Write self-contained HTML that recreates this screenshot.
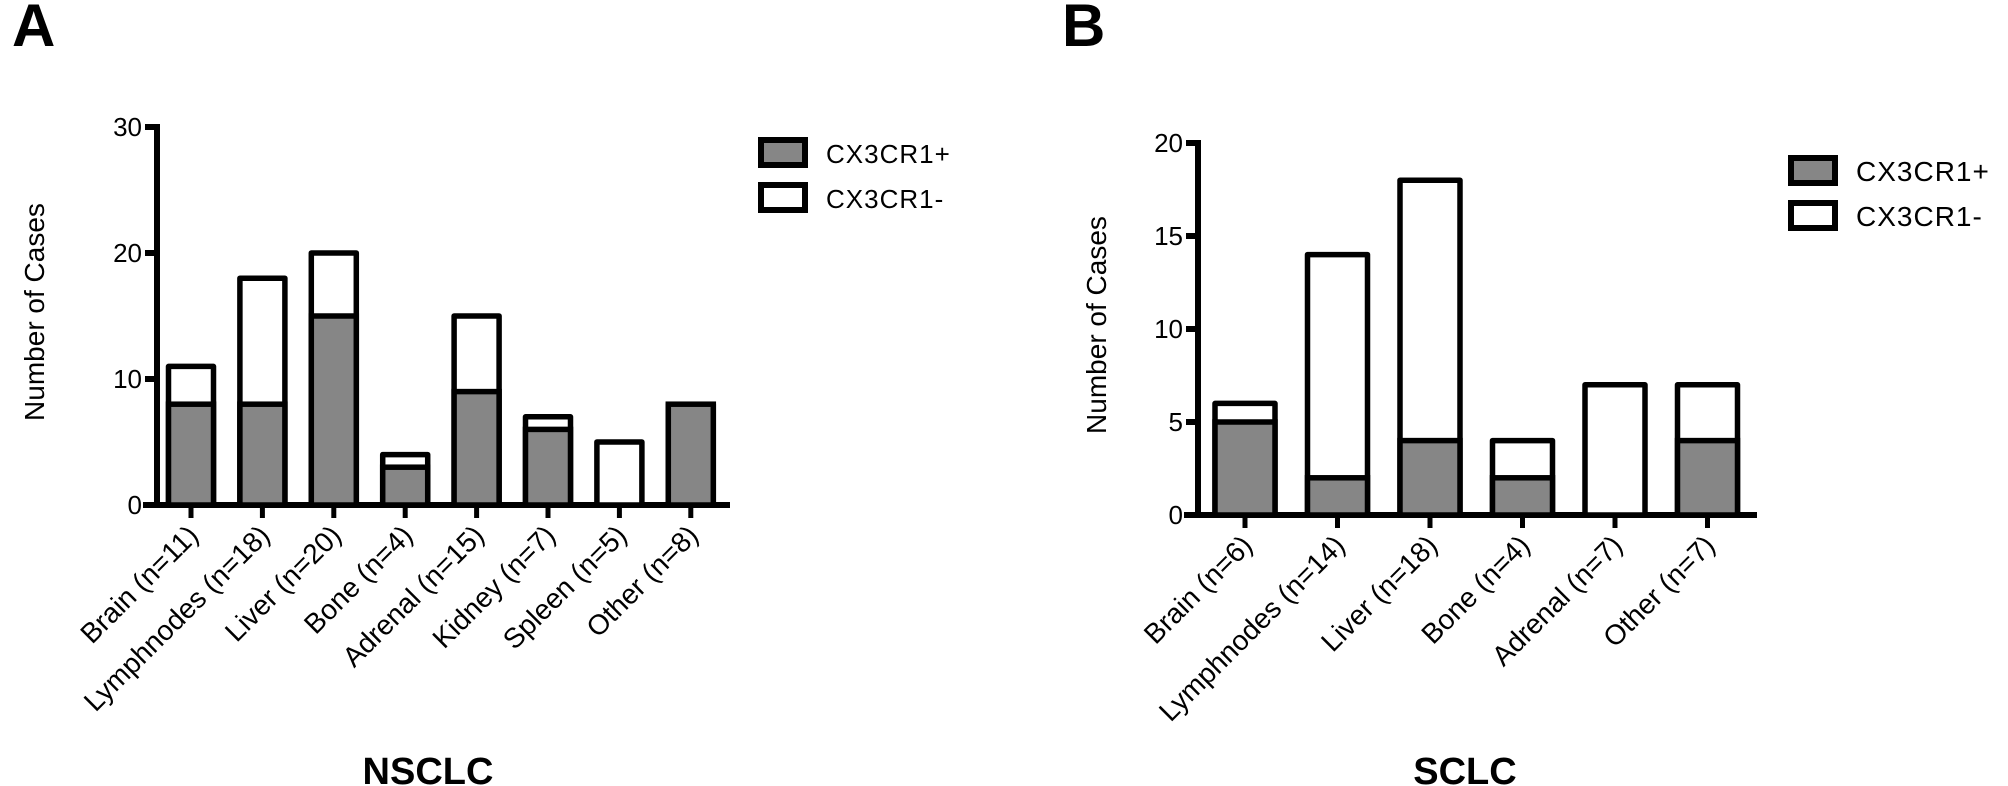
<!DOCTYPE html>
<html><head><meta charset="utf-8"><style>
html,body{margin:0;padding:0;background:#fff;}
svg{display:block;font-family:"Liberation Sans",Arial,sans-serif;}
</style></head><body>
<svg id="fig" width="2008" height="786" viewBox="0 0 2008 786">
<text x="12" y="46" font-size="60" font-weight="bold">A</text>
<text x="1062" y="46" font-size="60" font-weight="bold">B</text>
<g id="pa"></g>
<g id="pb"></g>
</svg>
<script>
const catsA = ["Brain (n=11)","Lymphnodes (n=18)","Liver (n=20)","Bone (n=4)","Adrenal (n=15)","Kidney (n=7)","Spleen (n=5)","Other (n=8)"];
const posA = [8,8,15,3,9,6,0,8];
const totA = [11,18,20,4,15,7,5,8];
const ticksA = [0,10,20,30];
const catsB = ["Brain (n=6)","Lymphnodes (n=14)","Liver (n=18)","Bone (n=4)","Adrenal (n=7)","Other (n=7)"];
const posB = [5,2,4,2,0,4];
const totB = [6,14,18,4,7,7];
const ticksB = [0,5,10,15,20];
const legendLabels = ["CX3CR1+","CX3CR1-"];
const NS="http://www.w3.org/2000/svg";
function mk(p,tag,a){const e=document.createElementNS(NS,tag);for(const k in a)e.setAttribute(k,a[k]);p.appendChild(e);return e;}
function panel(g,cfg){
  const y=v=>cfg.y0-v*cfg.ppu;
  const x=i=>cfg.x0+i*cfg.step;
  const top=y(cfg.ticks[cfg.ticks.length-1]);
  let e=mk(g,'line',{x1:cfg.ax,y1:top-3,x2:cfg.ax,y2:cfg.y0+3,stroke:'#000','stroke-width':6});
  
  
  e=mk(g,'line',{x1:cfg.ax-14,y1:cfg.y0,x2:cfg.xend,y2:cfg.y0,stroke:'#000','stroke-width':6});
  
  
  cfg.ticks.forEach(t=>{
    const tl=mk(g,'line',{x1:cfg.ax-12,y1:y(t),x2:cfg.ax,y2:y(t),stroke:'#000','stroke-width':6});
    
    
    const tx=mk(g,'text',{x:cfg.ax-15,y:y(t)+9,'font-size':26,'text-anchor':'end'});
    tx.textContent=t;
    
    
  });
  cfg.cats.forEach((c,i)=>{
    const cx=x(i), w=cfg.bw;
    const neg=mk(g,'rect',{x:cx-w/2,y:y(cfg.tot[i]),width:w,height:cfg.tot[i]*cfg.ppu,fill:'#fff',stroke:'#000','stroke-width':5.5,'stroke-linejoin':'round'});
    
    
    if(cfg.pos[i]>0){
      const p=mk(g,'rect',{x:cx-w/2,y:y(cfg.pos[i]),width:w,height:cfg.pos[i]*cfg.ppu,fill:'#868686',stroke:'#000','stroke-width':5.5});
      
      
    }
    const tk=mk(g,'line',{x1:cx,y1:cfg.y0,x2:cx,y2:cfg.y0+13,stroke:'#000','stroke-width':5});
    
    
    const lb=mk(g,'text',{x:0,y:0,'font-size':28,'text-anchor':'end',transform:`translate(${cx+9},${cfg.y0+32}) rotate(-45)`});
    lb.textContent=c;
    
    
  });
  const yt=mk(g,'text',{x:0,y:0,'font-size':28,'text-anchor':'middle',transform:`translate(${cfg.ytx},${cfg.yty}) rotate(-90)`});
  yt.textContent='Number of Cases';
  
  
  const tt=mk(g,'text',{x:cfg.tx,y:784,'font-size':38,'font-weight':'bold','text-anchor':'middle'});
  tt.textContent=cfg.title;
  
  
  legendLabels.forEach((l,i)=>{
    const ly=cfg.ly+i*45;
    const r=mk(g,'rect',{x:cfg.lx+3,y:ly+3,width:44,height:25,fill:i==0?'#868686':'#fff',stroke:'#000','stroke-width':6});
    
    
    const t=mk(g,'text',{x:cfg.lx+68,y:ly+26,'font-size':cfg.lfs,'letter-spacing':1});
    t.textContent=l;
    
    
  });
}
panel(document.getElementById('pa'),{cats:catsA,pos:posA,tot:totA,ticks:ticksA,ax:157,y0:505,ppu:12.6,x0:191,step:71.4,bw:45,xend:730,ytx:44,yty:312,tx:428,title:'NSCLC',lx:758,ly:137,lfs:26});
panel(document.getElementById('pb'),{cats:catsB,pos:posB,tot:totB,ticks:ticksB,ax:1198,y0:515,ppu:18.6,x0:1245,step:92.5,bw:60,xend:1757,ytx:1106,yty:325,tx:1465,title:'SCLC',lx:1788,ly:155,lfs:28});
</script>
</body></html>
